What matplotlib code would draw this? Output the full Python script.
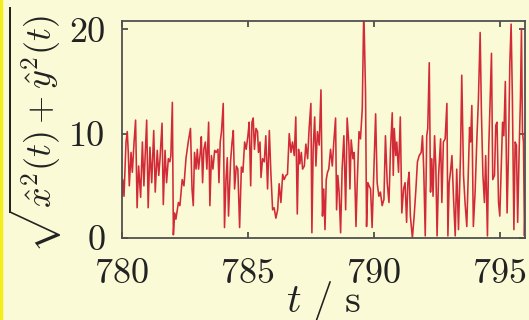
import matplotlib
matplotlib.use("Agg")
import matplotlib.pyplot as plt
from matplotlib.patches import Rectangle

# time stamps (s) and amplitude
t = [780.00, 780.03, 780.08, 780.16, 780.21, 780.25, 780.29, 780.36, 780.41, 780.48,
     780.54, 780.60, 780.66, 780.74, 780.81, 780.87, 780.98, 781.04, 781.11, 781.18,
     781.26, 781.32, 781.40, 781.46, 781.51, 781.59, 781.64, 781.71, 781.77, 781.84,
     781.90, 781.94, 782.00, 782.04, 782.09, 782.14, 782.24, 782.30, 782.39, 782.46,
     782.54, 782.63, 782.72, 782.78, 782.83, 782.88, 782.94, 782.99, 783.04, 783.11,
     783.15, 783.20, 783.25, 783.31, 783.37, 783.44, 783.49, 783.55, 783.61, 783.68,
     783.74, 783.81, 783.85, 783.90, 783.95, 784.02, 784.07, 784.13, 784.18, 784.23,
     784.31, 784.37, 784.42, 784.47, 784.54, 784.60, 784.67, 784.74, 784.80, 784.87,
     784.93, 785.00, 785.05, 785.11, 785.16, 785.21, 785.26, 785.32, 785.38, 785.42,
     785.48, 785.52, 785.58, 785.65, 785.71, 785.78, 785.85, 785.91, 785.98, 786.04,
     786.11, 786.18, 786.24, 786.31, 786.38, 786.44, 786.51, 786.57, 786.64, 786.71,
     786.77, 786.84, 786.90, 786.96, 787.01, 787.06, 787.12, 787.17, 787.24, 787.30,
     787.37, 787.43, 787.50, 787.54, 787.59, 787.65, 787.70, 787.76, 787.83, 787.90,
     787.96, 788.01, 788.06, 788.11, 788.16, 788.21, 788.28, 788.35, 788.41, 788.48,
     788.52, 788.57, 788.62, 788.68, 788.74, 788.81, 788.88, 788.94, 789.01, 789.05,
     789.10, 789.17, 789.22, 789.29, 789.34, 789.41, 789.47, 789.54, 789.60, 789.67,
     789.71, 789.76, 789.81, 789.87, 789.93, 790.00, 790.07, 790.13, 790.20, 790.26,
     790.33, 790.40, 790.46, 790.53, 790.60, 790.66, 790.73, 790.77, 790.81, 790.87,
     790.91, 790.98, 791.05, 791.11, 791.18, 791.24, 791.30, 791.35, 791.40, 791.45,
     791.53, 791.60, 791.67, 791.73, 791.80, 791.88, 791.93, 791.98, 792.04, 792.10,
     792.14, 792.20, 792.25, 792.30, 792.35, 792.41, 792.46, 792.51, 792.57, 792.65,
     792.70, 792.76, 792.83, 792.90, 792.94, 792.99, 793.04, 793.10, 793.16, 793.23,
     793.29, 793.36, 793.44, 793.49, 793.56, 793.62, 793.69, 793.76, 793.80, 793.84,
     793.89, 793.95, 794.02, 794.09, 794.15, 794.22, 794.27, 794.33, 794.39, 794.44,
     794.51, 794.56, 794.62, 794.67, 794.72, 794.79, 794.84, 794.89, 794.95, 795.00,
     795.05, 795.11, 795.16, 795.22, 795.29, 795.34, 795.40, 795.45, 795.50, 795.56,
     795.61, 795.66, 795.71, 795.77, 795.82, 795.86, 795.90, 795.94, 795.98, 796.02]

r = [4.0, 5.6, 4.0, 9.2, 10.2, 8.2, 5.0, 8.2, 6.3, 9.2,
     11.3, 2.9, 6.9, 3.9, 9.2, 5.0, 11.3, 2.9, 8.7, 5.3,
     10.3, 4.4, 8.4, 6.0, 7.6, 11.0, 3.2, 8.4, 5.3, 7.6,
     7.3, 7.9, 13.0, 0.3, 2.4, 1.8, 3.4, 3.1, 5.6, 5.0,
     7.6, 9.2, 10.5, 4.7, 3.1, 8.2, 6.6, 8.5, 6.6, 8.2,
     9.7, 5.3, 8.5, 9.2, 6.6, 11.1, 3.1, 7.9, 6.6, 8.4,
     8.2, 8.5, 5.3, 9.2, 10.2, 12.9, 1.0, 5.6, 7.7, 2.1,
     7.3, 9.2, 10.3, 4.7, 6.9, 6.6, 1.0, 6.8, 6.3, 9.2,
     8.5, 9.8, 11.1, 5.0, 11.1, 11.5, 8.5, 10.5, 10.2, 8.2,
     9.2, 5.8, 7.6, 7.3, 9.8, 4.7, 10.3, 6.3, 2.7, 2.9,
     1.9, 2.7, 5.2, 3.4, 6.1, 5.6, 6.0, 6.1, 10.0, 8.2,
     9.2, 7.9, 11.6, 2.3, 8.5, 7.1, 8.2, 6.6, 6.9, 9.0,
     7.6, 10.5, 12.9, 0.5, 8.5, 11.6, 6.9, 10.2, 8.9, 14.2,
     2.1, 4.7, 0.8, 5.6, 6.3, 6.6, 8.5, 6.9, 9.2, 11.5,
     2.7, 6.0, 4.4, 0.5, 6.6, 9.8, 2.7, 11.5, 8.9, 4.7,
     9.4, 7.6, 8.2, 1.1, 5.3, 10.2, 9.5, 12.4, 22.0, 13.9,
     1.1, 5.3, 5.0, 4.7, 1.0, 6.3, 11.9, 5.3, 4.0, 4.4,
     3.1, 3.7, 9.8, 5.3, 3.4, 8.5, 12.0, 6.0, 10.5, 7.9,
     9.2, 6.3, 11.6, 2.4, 4.7, 5.3, 1.5, 5.3, 6.3, 2.1,
     0.0, 2.1, 4.7, 7.3, 7.9, 8.2, 9.8, 6.6, 0.2, 9.8,
     10.5, 16.8, 4.4, 7.6, 4.0, 9.8, 6.9, 0.2, 6.0, 9.5,
     3.4, 9.2, 9.5, 12.9, 0.2, 5.3, 6.3, 7.9, 4.0, 0.2,
     6.6, 0.8, 8.0, 15.6, 6.0, 3.4, 1.1, 7.3, 10.6, 9.2,
     12.7, 1.1, 4.4, 9.5, 13.2, 19.7, 12.1, 6.0, 3.4, 7.9,
     0.2, 8.5, 13.7, 17.7, 5.6, 6.0, 10.8, 11.1, 3.4, 2.1,
     6.3, 11.1, 9.8, 15.0, 2.4, 7.6, 16.9, 20.5, 13.4, 0.8,
     9.2, 8.9, 1.5, 8.5, 13.4, 20.0, 10.2, 9.2, 0.2, 5.0]

xticks = [780, 785, 790, 795]
yticks = [0, 10, 20]

bg = '#FAFAD7'
plt.rcParams['mathtext.fontset'] = 'cm'
plt.rcParams['font.family'] = 'serif'
plt.rcParams['font.serif'] = ['cmr10', 'DejaVu Serif']
plt.rcParams['axes.formatter.use_mathtext'] = True

fig = plt.figure(figsize=(5.29, 3.2), dpi=100, facecolor=bg)
ax = fig.add_axes([0.2306, 0.2563, 0.7618, 0.6781], facecolor=bg)

# bright yellow strip along the left edge
fig.patches.append(Rectangle((0, 0), 0.004, 1, transform=fig.transFigure,
                             color='#F2EE1A', zorder=0))

ax.plot(t, r, color='#D22A36', lw=1.15)

ax.set_xlim(780, 796)
ax.set_ylim(0, 20.8)
ax.set_xticks(xticks)
ax.set_yticks(yticks)
ax.set_xticklabels([str(v) for v in xticks])
ax.set_yticklabels([str(v) for v in yticks])

for s in ax.spines.values():
    s.set_color('#505050')
    s.set_linewidth(1.3)
ax.tick_params(direction='in', top=True, right=True, length=4, width=1.2,
               color='#404040', labelsize=26, labelcolor='#222222')
ax.tick_params(axis='x', pad=15)
ax.tick_params(axis='y', pad=12)

ax.set_xlabel(r'$t\ /\ \mathrm{s}$', fontsize=29, color='#222222', labelpad=-8)
ax.set_ylabel(r'$\sqrt{\hat{x}^2(t)+\hat{y}^2(t)}$', fontsize=26, color='#222222',
              labelpad=4)

fig.savefig('out.png', dpi=100, facecolor=bg)
